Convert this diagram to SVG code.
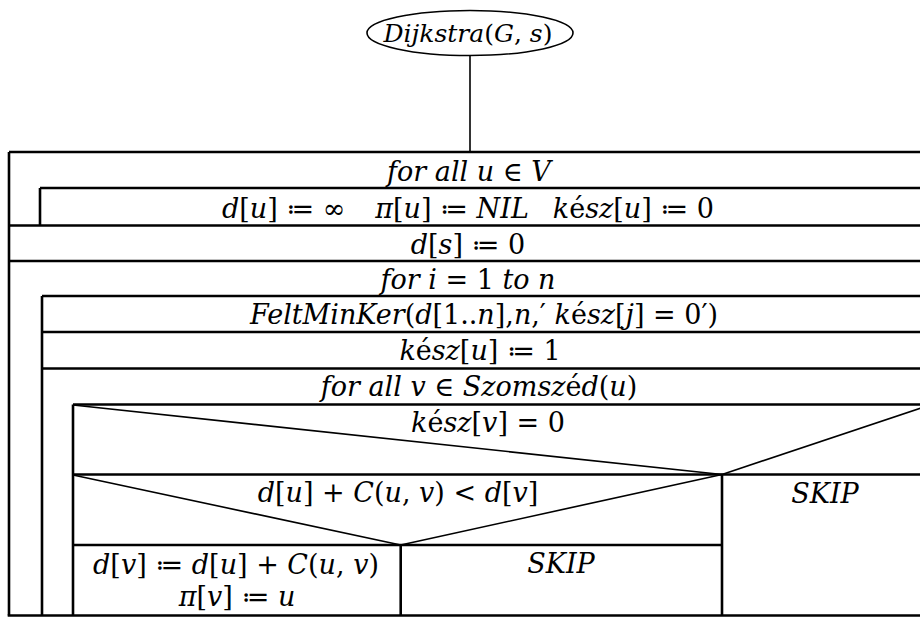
<svg xmlns="http://www.w3.org/2000/svg" width="920" height="617" viewBox="0 0 920 617">
<style>
  .ln{stroke:#000;stroke-width:2.6;fill:none}
  .dg{stroke:#000;stroke-width:1.6;fill:none}
  .t{font-family:"DejaVu Serif","Liberation Serif",serif;font-style:italic;font-size:27px;fill:#000;text-anchor:middle}
  .n{font-style:normal}
</style>
<rect width="920" height="617" fill="#fff"/>
<g id="start">
  <ellipse cx="470" cy="33" rx="103" ry="22.5" fill="#fff" stroke="#000" stroke-width="1.6"/>
  <text class="t" x="468" y="42" style="font-size:25px">Dijkstra<tspan class="n">(</tspan>G<tspan class="n">,</tspan> s<tspan class="n">)</tspan></text>
</g>
<g id="connectors">
  <line class="dg" x1="470" y1="55.5" x2="470" y2="152"/>
</g>
<g id="frame">
  <line class="ln" x1="9" y1="152" x2="930" y2="152"/>
  <line class="ln" x1="9" y1="152" x2="9" y2="615.5"/>
  <line class="ln" x1="7.7" y1="615.5" x2="930" y2="615.5"/>
</g>
<g id="loop-u">
  <text class="t" x="469" y="181">for all u <tspan class="n">∈</tspan> V</text>
  <line class="ln" x1="40" y1="188" x2="930" y2="188"/>
  <line class="ln" x1="40" y1="188" x2="40" y2="225.5"/>
</g>
<g id="init">
  <text class="t" x="468" y="218">d<tspan class="n">[</tspan>u<tspan class="n">] ≔ ∞</tspan><tspan dx="30">π</tspan><tspan class="n">[</tspan>u<tspan class="n">] ≔ </tspan>NIL<tspan dx="24">k</tspan><tspan class="n">é</tspan>sz<tspan class="n">[</tspan>u<tspan class="n">] ≔ 0</tspan></text>
  <line class="ln" x1="9" y1="225.5" x2="930" y2="225.5"/>
</g>
<g id="ds">
  <text class="t" x="468" y="254">d<tspan class="n">[</tspan>s<tspan class="n">] ≔ 0</tspan></text>
  <line class="ln" x1="9" y1="261" x2="930" y2="261"/>
</g>
<g id="loop-i">
  <text class="t" x="468" y="289">for i <tspan class="n">= 1</tspan> to n</text>
  <line class="ln" x1="42" y1="296" x2="930" y2="296"/>
  <line class="ln" x1="42" y1="296" x2="42" y2="615.5"/>
</g>
<g id="feltminker">
  <text class="t" x="484" y="324">FeltMinKer<tspan class="n">(</tspan>d<tspan class="n">[1..</tspan>n<tspan class="n">],</tspan>n<tspan class="n">,′ </tspan>k<tspan class="n">é</tspan>sz<tspan class="n">[</tspan>j<tspan class="n">] = 0′)</tspan></text>
  <line class="ln" x1="42" y1="332" x2="930" y2="332"/>
</g>
<g id="kesz-u">
  <text class="t" x="480" y="360">k<tspan class="n">é</tspan>sz<tspan class="n">[</tspan>u<tspan class="n">] ≔ 1</tspan></text>
  <line class="ln" x1="42" y1="368.5" x2="930" y2="368.5"/>
</g>
<g id="loop-v">
  <text class="t" x="479" y="396">for all v <tspan class="n">∈</tspan> Szomsz<tspan class="n">é</tspan>d<tspan class="n">(</tspan>u<tspan class="n">)</tspan></text>
  <line class="ln" x1="73" y1="404.5" x2="930" y2="404.5"/>
  <line class="ln" x1="73" y1="404.5" x2="73" y2="615.5"/>
</g>
<g id="if-kesz">
  <line class="dg" x1="73" y1="405" x2="722" y2="474.5"/>
  <line class="dg" x1="722" y1="474.5" x2="930" y2="405"/>
  <text class="t" x="488" y="432">k<tspan class="n">é</tspan>sz<tspan class="n">[</tspan>v<tspan class="n">] = 0</tspan></text>
  <line class="ln" x1="73" y1="474.5" x2="930" y2="474.5"/>
  <line class="ln" x1="722" y1="474.5" x2="722" y2="615.5"/>
</g>
<g id="skip-outer">
  <text class="t" x="825" y="503">SKIP</text>
</g>
<g id="if-d">
  <line class="dg" x1="73" y1="475" x2="400.7" y2="545"/>
  <line class="dg" x1="400.7" y1="545" x2="722" y2="474.5"/>
  <text class="t" x="398" y="502">d<tspan class="n">[</tspan>u<tspan class="n">] + </tspan>C<tspan class="n">(</tspan>u<tspan class="n">,</tspan> v<tspan class="n">) &lt; </tspan>d<tspan class="n">[</tspan>v<tspan class="n">]</tspan></text>
  <line class="ln" x1="73" y1="545" x2="722" y2="545"/>
  <line class="ln" x1="400.7" y1="545" x2="400.7" y2="615.5"/>
</g>
<g id="relax">
  <text class="t" x="236" y="574">d<tspan class="n">[</tspan>v<tspan class="n">] ≔ </tspan>d<tspan class="n">[</tspan>u<tspan class="n">] + </tspan>C<tspan class="n">(</tspan>u<tspan class="n">,</tspan> v<tspan class="n">)</tspan></text>
  <text class="t" x="237" y="606">π<tspan class="n">[</tspan>v<tspan class="n">] ≔ </tspan>u</text>
</g>
<g id="skip-inner">
  <text class="t" x="561" y="573">SKIP</text>
</g>
</svg>
